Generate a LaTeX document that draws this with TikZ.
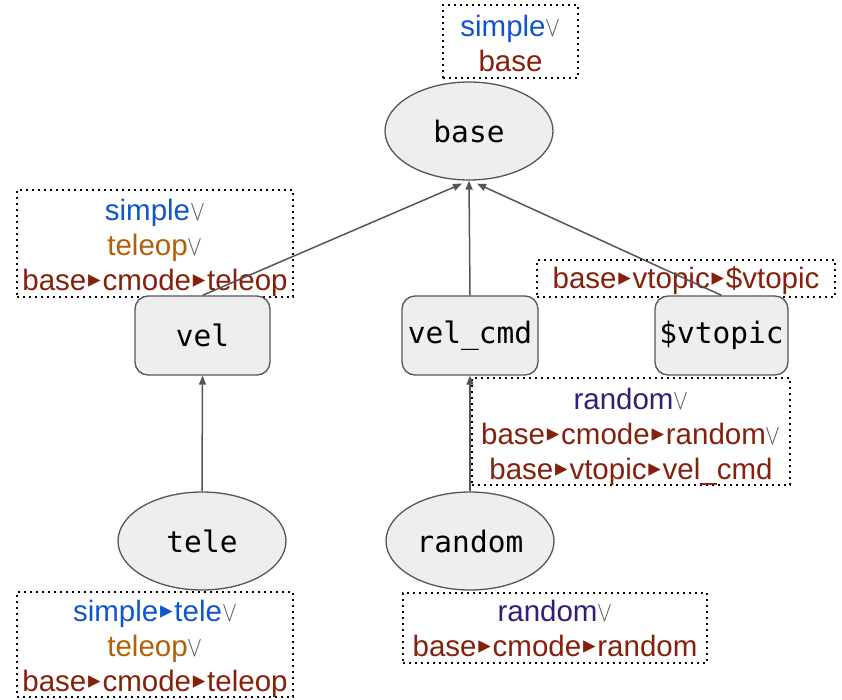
\documentclass[tikz,border=0pt]{standalone}
\usepackage{fontspec}
\setmainfont{Liberation Sans}
\setmonofont{DejaVu Sans Mono}
\newfontfamily\symfont{DejaVu Sans}
\usetikzlibrary{arrows.meta,shapes.geometric}

\definecolor{cblue}{HTML}{1155CC}
\definecolor{corange}{HTML}{B45F06}
\definecolor{cred}{HTML}{85200C}
\definecolor{cpurple}{HTML}{351C75}
\definecolor{cgray}{HTML}{555555}
\definecolor{cfill}{HTML}{EEEEEE}

% separator and alternative marks
\newcommand\sep{\hspace{0.06em}\raisebox{0.1em}{\scalebox{0.85}{\symfont ▸}}\hspace{0.06em}}
\newcommand\alt{{\color{cgray}\scalebox{0.9}[1.15]{$\vee$}}}

\begin{document}
\begin{tikzpicture}[x=1pt,y=-1pt,
  every node/.style={inner sep=0pt},
  ellnode/.style={ellipse,draw=cgray,fill=cfill,line width=1.3pt,
    minimum width=168pt,minimum height=98pt,font=\ttfamily\fontsize{29.5}{30}\selectfont},
  boxnode/.style={rectangle,rounded corners=13pt,draw=cgray,fill=cfill,line width=1.3pt,
    minimum height=79pt,font=\ttfamily\fontsize{29.5}{30}\selectfont},
  dotbox/.style={draw=black,line width=1.8pt,dash pattern=on 1.8pt off 4.2pt},
  lbltext/.style={align=center,font=\fontsize{29.5}{35}\selectfont},
  edge/.style={draw=cgray,line width=1.5pt,-{Triangle[length=9pt,width=7pt]}}]
\useasboundingbox (0,0) rectangle (842,699);

% dotted label frames
\node[dotbox,minimum width=135pt,minimum height=73pt] (baselbl) at (510.5,41.5) {};
\node[dotbox,minimum width=276pt,minimum height=107pt] (vellbl) at (155,243.5) {};
\node[dotbox,minimum width=298pt,minimum height=37pt] (vtopiclbl) at (686,278.5) {};
\node[dotbox,minimum width=318pt,minimum height=107pt] (velcmdlbl) at (631,431.5) {};
\node[dotbox,minimum width=276pt,minimum height=105pt] (telelbl) at (155,644.5) {};
\node[dotbox,minimum width=304pt,minimum height=70pt] (randlbl) at (555,628) {};

% label texts
\node[lbltext] (basetxt) at ([yshift=-2pt]baselbl.center)
  {{\color{cblue}simple}\alt\\{\color{cred}base}};
\node[lbltext] (veltxt) at ([yshift=-4pt]vellbl.center)
  {{\color{cblue}simple}\alt\\{\color{corange}teleop}\alt\\{\color{cred}base\sep cmode\sep teleop}};
\node[lbltext] (vtopictxt) at ([yshift=-2pt]vtopiclbl.center)
  {{\color{cred}base\sep vtopic\sep\$vtopic}};
\node[lbltext] (velcmdtxt) at ([yshift=-5pt]velcmdlbl.center)
  {{\color{cpurple}random}\alt\\{\color{cred}base\sep cmode\sep random}\alt\\{\color{cred}base\sep vtopic\sep vel\_cmd}};
\node[lbltext] (teletxt) at ([yshift=-4pt]telelbl.center)
  {{\color{cblue}simple\sep tele}\alt\\{\color{corange}teleop}\alt\\{\color{cred}base\sep cmode\sep teleop}};
\node[lbltext] (randtxt) at (randlbl.center)
  {{\color{cpurple}random}\alt\\{\color{cred}base\sep cmode\sep random}};

% nodes
\node[ellnode] (base) at (469,131) {base};
\node[boxnode,minimum width=135pt] (vel) at (202.5,335.5) {vel};
\node[boxnode,minimum width=136pt] (velcmd) at (470,335.5) {vel\_cmd};
\node[boxnode,minimum width=133pt] (vtopic) at (721.5,335.5) {\$vtopic};
\node[ellnode] (tele) at (202,541) {tele};
\node[ellnode] (random) at (470,541) {random};

% connectors
\draw[edge] (vel.north) -- ([xshift=-7pt,yshift=-3pt]base.south);
\draw[edge] (velcmd.north) -- (base.south);
\draw[edge] (vtopic.north) -- ([xshift=8pt,yshift=-3pt]base.south);
\draw[edge] (tele.north) -- (vel.south);
\draw[edge] (random.north) -- (velcmd.south);
\end{tikzpicture}
\end{document}
